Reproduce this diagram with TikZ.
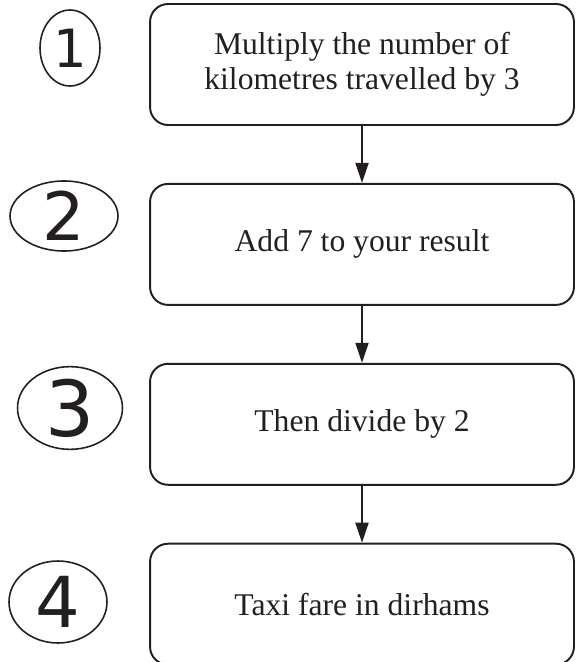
\documentclass[tikz,border=0pt]{standalone}
\usepackage{fontspec}
\setmainfont{Liberation Serif}
\newfontfamily\handfont{DejaVu Sans}
\usepackage{xcolor}
\usepackage{tikz}
\usetikzlibrary{arrows.meta, positioning, shapes.geometric}

\definecolor{ink}{HTML}{231F20}

\begin{document}
\begin{tikzpicture}[
        x=0.02cm,
        y=-0.02cm,
        >={Triangle[length=0.4cm, width=0.26cm]},
        stepbox/.style={draw=ink, line width=1.1pt, rounded corners=0.36cm,
            minimum width=8.48cm, minimum height=2.42cm, inner sep=0pt,
            align=center, text=ink, font=\fontsize{18}{20}\selectfont},
        numring/.style={ellipse, draw=ink, line width=0.9pt, inner sep=0pt,
            text=ink, font=\handfont\fontsize{#1}{#1}\selectfont},
        flow/.style={->, draw=ink, line width=1.1pt}
    ]
        % --- Cadre de l'image ---
        \useasboundingbox (0,0) rectangle (575,662);

        % --- Les étapes du calcul ---
        \node[stepbox] (mult) at (362,64.5) {Multiply the number of\\kilometres travelled by 3};
        \node[stepbox, below=1.14cm of mult] (add) {Add 7 to your result};
        \node[stepbox, below=1.14cm of add] (divide) {Then divide by 2};
        \node[stepbox, below=1.14cm of divide] (fare) {Taxi fare in dirhams};

        % --- Flèches entre les étapes ---
        \draw[flow] (mult) -- (add);
        \draw[flow] (add) -- (divide);
        \draw[flow] (divide) -- (fare);

        % --- Numéros entourés à la main ---
        \node[numring=30, minimum width=1.2cm, minimum height=1.52cm] (one) at (70,48) {1};
        \node[numring=38, minimum width=2.16cm, minimum height=1.34cm] (two) at (64,216) {2};
        \node[numring=44, minimum width=2.1cm, minimum height=1.5cm] (three) at (70,408) {3};
        \node[numring=40, minimum width=1.96cm, minimum height=1.64cm] (four) at (58,602) {4};

    \end{tikzpicture}
\end{document}
